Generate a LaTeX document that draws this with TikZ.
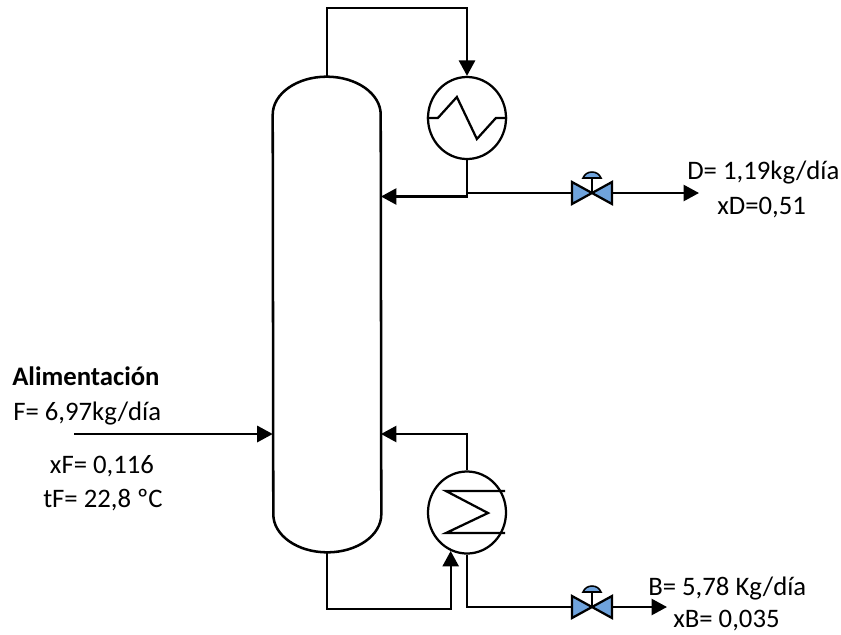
\documentclass[tikz,border=0pt]{standalone}
\usepackage{fontspec}
\setmainfont{Carlito}
\usetikzlibrary{positioning, shapes.geometric, arrows.meta, calc}
\definecolor{valveblue}{HTML}{6FA3DC}
\tikzset{
  line/.style={draw=black, line width=1.6pt},
  flow/.style={line, -{Triangle[length=11pt, width=11.5pt]}},
  exch/.style={draw=black, line width=1.6pt, ellipse, inner sep=0pt, minimum width=1.95cm, minimum height=2.05cm},
  valvebox/.style={inner sep=0pt, minimum width=1cm, minimum height=0.55cm},
  lbl/.style={inner sep=0pt, font=\fontsize{19}{22}\selectfont}
}
\begin{document}
\begin{tikzpicture}[x=0.025cm, y=-0.025cm]
    \useasboundingbox (0,0) rectangle (841,634);
    \node[inner sep=0pt, minimum width=2.7cm, minimum height=11.875cm] (col) at (327,314.5) {};
    \draw[line, line width=1.8pt] ($(col.north west)+(0,38)$) arc[start angle=180, end angle=360, x radius=54, y radius=38]
        -- ($(col.south east)+(0,-38)$) arc[start angle=0, end angle=180, x radius=54, y radius=38] -- cycle;
    \node[exch] (cond) at (467,118) {};
    \node[exch] (reb) at (467,512.5) {};
    \node[valvebox] (vd) at (592,193) {};
    \node[valvebox] (vb) at (592,607) {};
    \foreach \v in {vd, vb} {
      \draw[line, fill=valveblue, shift={(\v)}] (-20,-11) -- (20,11) -- (20,-11) -- (-20,11) -- cycle;
      \draw[line, shift={(\v)}] (0,0) -- (0,-15);
      \draw[line, line width=1.1pt, fill=valveblue, shift={(\v)}] (-9,-15) .. controls (-6,-23) and (6,-23) .. (9,-15) -- cycle;
    }
    \draw[line] (cond.west) -- ++(11,0) -- ++(19,-21) -- ++(20,42) -- ++(19,-21) -- (cond.east);
    \draw[line] (505,491) -- (446,491) -- (488,513) -- (446,533) -- (505,533);
    \coordinate (feedin) at (74,434);
    \coordinate (refl) at (381,196.5);
    \coordinate (boil) at (381,434);
    \coordinate (dout) at (699,193);
    \coordinate (bout) at (667,607);
    \coordinate (dj) at (cond.south |- vd);
    \draw[flow] (feedin) -- (feedin -| col.west);
    \draw[flow] (col.north) -- ++(0,-69) -| (cond.north);
    \draw[flow] (cond.south) |- (refl);
    \draw[line] (dj) -- (vd.west);
    \draw[flow] (vd.east) -- (dout);
    \draw[flow] (reb.north) |- (boil);
    \draw[flow] (col.south) -- ++(0,57) -| (reb.247);
    \draw[line] (reb.south) |- (vb.west);
    \draw[flow] (vb.east) -- (bout);
    \node[lbl, anchor=west, font=\fontsize{19}{22}\selectfont\bfseries] (alim) at (12,376) {Alimentación};
    \node[lbl, anchor=west] (ff) at (13,414) {F= 6,97kg/día};
    \node[lbl] (xf) at (102,466) {xF= 0,116};
    \node[lbl] (tf) at (103,500) {tF= 22,8 ºC};
    \node[lbl, anchor=west] (dd) at (687,173) {D= 1,19kg/día};
    \node[lbl, anchor=west] (xd) at (717,208) {xD=0,51};
    \node[lbl, anchor=west] (bb) at (648,589) {B= 5,78 Kg/día};
    \node[lbl, anchor=west] (xb) at (673,621) {xB= 0,035};
\end{tikzpicture}
\end{document}
